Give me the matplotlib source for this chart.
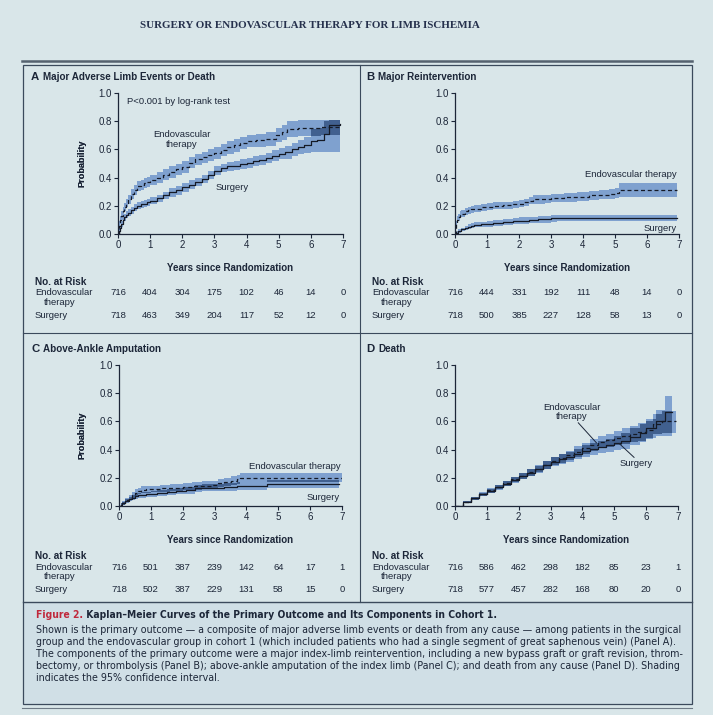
import numpy as np
import matplotlib
matplotlib.use('Agg')
import matplotlib.pyplot as plt
from matplotlib import font_manager
from matplotlib.font_manager import FontProperties
from matplotlib.transforms import blended_transform_factory
from matplotlib.patches import Rectangle
from matplotlib.lines import Line2D
from matplotlib.text import Annotation

# ---------------- data ----------------
years = [0, 1, 2, 3, 4, 5, 6, 7]
year_labels = ['0', '1', '2', '3', '4', '5', '6', '7']
prob_ticks = [0.0, 0.2, 0.4, 0.6, 0.8, 1.0]
prob_labels = ['0.0', '0.2', '0.4', '0.6', '0.8', '1.0']

# Panel A - Major adverse limb events or death
a_endo_t = [0, .03, .06, .1, .15, .2, .25, .3, .4, .5, .6, .7, .8, .9, 1.0, 1.2, 1.4, 1.6, 1.8, 2.0,
            2.2, 2.4, 2.6, 2.8, 3.0, 3.2, 3.4, 3.6, 3.8, 4.0, 4.3, 4.6, 4.9, 5.1, 5.25, 5.6, 6.3, 6.9]
a_endo_v = [0, .06, .10, .13, .16, .19, .22, .245, .285, .315, .34, .35, .36, .37, .38, .40, .42, .44, .46, .475,
            .505, .53, .545, .56, .575, .595, .615, .63, .645, .66, .665, .675, .70, .72, .745, .75, .76, .76]
a_endo_lo = [0, .03, .07, .10, .13, .16, .19, .215, .25, .28, .305, .315, .325, .335, .345, .36, .38, .40, .42, .435,
             .465, .49, .505, .52, .535, .55, .57, .585, .60, .615, .62, .625, .65, .665, .69, .695, .70, .70]
a_endo_hi = [0, .09, .13, .16, .19, .22, .25, .275, .32, .35, .375, .385, .395, .405, .415, .44, .46, .48, .50, .515,
             .545, .57, .585, .60, .615, .64, .66, .675, .69, .705, .71, .72, .75, .775, .80, .805, .81, .81]
a_surg_t = [0, .03, .06, .1, .15, .2, .25, .3, .4, .5, .6, .7, .8, .9, 1.0, 1.2, 1.4, 1.6, 1.8, 2.0,
            2.2, 2.4, 2.6, 2.8, 3.0, 3.2, 3.4, 3.6, 3.8, 4.0, 4.2, 4.4, 4.6, 4.8, 5.0, 5.2, 5.4, 5.6, 5.8, 6.0,
            6.2, 6.4, 6.55, 6.9]
a_surg_v = [0, .02, .04, .07, .10, .12, .135, .15, .17, .185, .20, .21, .215, .225, .235, .255, .275, .295, .31, .33,
            .35, .37, .39, .42, .45, .47, .48, .485, .495, .505, .515, .525, .54, .555, .57, .58, .60, .615, .63, .66,
            .67, .71, .775, .78]
a_surg_lo = [0, .005, .02, .05, .075, .095, .11, .125, .145, .16, .175, .185, .19, .20, .21, .23, .25, .265, .28, .30,
             .32, .34, .36, .39, .42, .44, .45, .455, .46, .47, .48, .49, .505, .515, .53, .535, .555, .565, .575, .58,
             .58, .58, .58, .58]
a_surg_hi = [0, .035, .06, .09, .125, .145, .16, .175, .195, .21, .225, .235, .24, .25, .26, .28, .30, .325, .34, .36,
             .38, .40, .42, .45, .48, .50, .51, .515, .53, .54, .55, .56, .575, .595, .61, .625, .645, .665, .685, .745,
             .75, .80, .81, .81]

# Panel B - Major reintervention
b_endo_t = [0, .03, .06, .1, .15, .2, .3, .4, .5, .6, .8, 1.0, 1.2, 1.5, 1.8, 2.0, 2.15, 2.3, 2.45, 2.8,
            3.0, 3.4, 3.8, 4.2, 4.5, 4.8, 5.0, 5.12, 6.95]
b_endo_v = [0, .07, .10, .12, .135, .145, .16, .17, .175, .18, .19, .195, .20, .205, .21, .215, .225, .235, .245, .25,
            .255, .26, .265, .275, .28, .285, .29, .315, .315]
b_endo_lo = [0, .045, .075, .095, .11, .12, .135, .145, .15, .155, .165, .17, .175, .18, .185, .19, .20, .21, .215, .22,
             .225, .23, .235, .24, .245, .25, .255, .265, .265]
b_endo_hi = [0, .095, .125, .145, .16, .17, .185, .195, .20, .205, .215, .22, .225, .23, .235, .24, .25, .26, .275, .28,
             .285, .29, .295, .305, .315, .32, .325, .365, .365]
b_surg_t = [0, .05, .1, .2, .3, .4, .5, .6, .8, 1.0, 1.2, 1.5, 1.8, 2.0, 2.3, 2.6, 3.0, 3.2, 6.95]
b_surg_v = [0, .01, .02, .033, .045, .053, .06, .065, .068, .072, .078, .085, .09, .095, .10, .105, .11, .115, .115]
b_surg_lo = [0, .0, .008, .02, .03, .037, .043, .047, .05, .053, .058, .064, .068, .072, .076, .08, .085, .092, .092]
b_surg_hi = [0, .02, .032, .046, .06, .069, .077, .083, .086, .091, .098, .106, .112, .118, .124, .13, .135, .138, .138]

# Panel C - Above-ankle amputation
c_endo_t = [0, .05, .1, .2, .3, .4, .5, .6, .7, .85, 1.0, 1.3, 1.6, 2.0, 2.3, 2.6, 2.9, 3.1, 3.3, 3.5, 3.7, 3.8, 7.0]
c_endo_v = [0, .01, .02, .04, .06, .08, .095, .105, .115, .12, .12, .125, .13, .135, .14, .145, .15, .16, .17, .18,
            .19, .20, .20]
c_endo_lo = [0, .0, .01, .025, .04, .058, .072, .082, .09, .095, .097, .10, .105, .11, .114, .118, .123, .132, .14,
             .15, .158, .168, .168]
c_endo_hi = [0, .02, .032, .055, .078, .1, .118, .128, .14, .145, .145, .15, .157, .162, .168, .174, .18, .19, .2,
             .212, .222, .232, .232]
c_surg_t = [0, .05, .1, .2, .3, .4, .5, .6, .7, .85, 1.0, 1.2, 1.5, 1.8, 2.1, 2.4, 2.6, 3.0, 3.3, 3.7, 4.65, 6.9]
c_surg_v = [0, .01, .02, .035, .05, .06, .068, .075, .08, .082, .085, .095, .10, .105, .11, .125, .13, .13, .135, .14,
            .155, .155]
c_surg_lo = [0, .0, .01, .022, .034, .043, .05, .056, .06, .062, .065, .074, .078, .082, .087, .1, .104, .104, .108,
             .112, .125, .125]
c_surg_hi = [0, .02, .03, .048, .066, .077, .086, .094, .1, .102, .105, .116, .122, .128, .133, .15, .156, .156, .162,
             .168, .185, .185]

# Panel D - Death
d_endo_t = [0, .25, .5, .75, 1.0, 1.25, 1.5, 1.75, 2.0, 2.25, 2.5, 2.75, 3.0, 3.25, 3.5, 3.75, 4.0, 4.25, 4.5, 4.75,
            5.0, 5.25, 5.5, 5.75, 6.0, 6.2, 6.5, 6.95]
d_endo_v = [0, .028, .055, .083, .11, .135, .16, .188, .215, .24, .265, .293, .32, .34, .36, .385, .41, .435, .455,
            .465, .48, .495, .51, .525, .54, .58, .605, .605]
d_endo_lo = [0, .02, .045, .07, .095, .118, .142, .168, .193, .216, .24, .265, .29, .308, .327, .348, .37, .392, .41,
             .418, .43, .44, .452, .462, .475, .51, .52, .52]
d_endo_hi = [0, .036, .065, .096, .125, .152, .178, .208, .237, .264, .29, .321, .35, .372, .393, .422, .45, .478, .5,
             .512, .53, .55, .568, .588, .605, .65, .675, .675]
d_surg_t = [0, .25, .5, .75, 1.0, 1.25, 1.5, 1.75, 2.0, 2.25, 2.5, 2.75, 3.0, 3.25, 3.5, 3.75, 4.0, 4.25, 4.5, 4.75,
            5.0, 5.2, 5.5, 5.8, 6.0, 6.3, 6.6, 6.8]
d_surg_v = [0, .027, .054, .082, .108, .133, .158, .185, .212, .237, .262, .29, .315, .333, .35, .37, .39, .405, .42,
            .43, .447, .46, .49, .52, .55, .60, .665, .665]
d_surg_lo = [0, .019, .044, .069, .093, .116, .14, .165, .19, .213, .237, .263, .285, .30, .315, .333, .35, .363,
             .376, .383, .397, .405, .43, .455, .48, .50, .50, .50]
d_surg_hi = [0, .035, .064, .095, .123, .15, .176, .205, .234, .261, .287, .317, .345, .366, .385, .407, .43, .447,
             .464, .477, .497, .515, .55, .585, .62, .68, .78, .78]

# Numbers at risk
risk_a_endo = [716, 404, 304, 175, 102, 46, 14, 0]
risk_a_surg = [718, 463, 349, 204, 117, 52, 12, 0]
risk_b_endo = [716, 444, 331, 192, 111, 48, 14, 0]
risk_b_surg = [718, 500, 385, 227, 128, 58, 13, 0]
risk_c_endo = [716, 501, 387, 239, 142, 64, 17, 1]
risk_c_surg = [718, 502, 387, 229, 131, 58, 15, 0]
risk_d_endo = [716, 586, 462, 298, 182, 85, 23, 1]
risk_d_surg = [718, 577, 457, 282, 168, 80, 20, 0]

panel_letters = ['A', 'B', 'C', 'D']
panel_titles = ['Major Adverse Limb Events or Death', 'Major Reintervention',
                'Above-Ankle Amputation', 'Death']

header = 'SURGERY OR ENDOVASCULAR THERAPY FOR LIMB ISCHEMIA'
caption_label = 'Figure 2.'
caption_title = ' Kaplan\u2013Meier Curves of the Primary Outcome and Its Components in Cohort 1.'
caption_lines = [
    'Shown is the primary outcome \u2014 a composite of major adverse limb events or death from any cause \u2014 among patients in the surgical',
    'group and the endovascular group in cohort 1 (which included patients who had a single segment of great saphenous vein) (Panel A).',
    'The components of the primary outcome were a major index-limb reintervention, including a new bypass graft or graft revision, throm-',
    'bectomy, or thrombolysis (Panel B); above-ankle amputation of the index limb (Panel C); and death from any cause (Panel D). Shading',
    'indicates the 95% confidence interval.',
]

# ---------------- style ----------------
SANS = 'Liberation Sans'
SERIF = 'Liberation Serif'
plt.rcParams['font.family'] = [SANS, 'DejaVu Sans']


def condensed_font(bold):
    for f in font_manager.fontManager.ttflist:
        st = str(f.stretch)
        if st in ('condensed', 'semi-condensed', '75', '87') and f.style == 'normal':
            w = f.weight if isinstance(f.weight, int) else (700 if 'bold' in str(f.weight) else 400)
            if (w >= 600) == bold and ('Sans' in f.name or 'Roboto' in f.name):
                return FontProperties(fname=f.fname)
    return None


CAP_REG = condensed_font(False)
CAP_BOLD = condensed_font(True)

BG = '#d9e6e9'
CAP_BG = '#d0dfe6'
FRAME = '#3b4a5c'
INK = '#1c2638'
LIGHT = '#7fa1cf'
DARK = '#41608f'
LINE = '#151a26'
RED = '#c0283c'

W, H = 713, 715
fig = plt.figure(figsize=(W / 100, H / 100), dpi=100)
fig.patch.set_facecolor(BG)
renderer = fig.canvas.get_renderer()


def fx(x):
    return x / W


def fy(y):
    return 1 - y / H


def fit_width(txt, target_px):
    w = txt.get_window_extent(renderer).width
    txt.set_fontsize(txt.get_fontsize() * target_px / w)
    return txt.get_fontsize()


# frame / decoration layer in pixel coordinates
deco = fig.add_axes([0, 0, 1, 1], zorder=0)
deco.set_xlim(0, W)
deco.set_ylim(H, 0)
deco.axis('off')
deco.add_patch(Rectangle((23, 602), 669, 102, facecolor=CAP_BG, edgecolor='none'))
deco.add_line(Line2D([22, 692], [61, 61], color='#55626f', lw=1.8))
deco.add_patch(Rectangle((23, 65), 669, 639, facecolor='none', edgecolor=FRAME, lw=0.9))
deco.add_line(Line2D([360, 360], [65, 602], color=FRAME, lw=0.8))
deco.add_line(Line2D([23, 692], [333, 333], color=FRAME, lw=0.8))
deco.add_line(Line2D([23, 692], [602, 602], color=FRAME, lw=1.0))
deco.add_line(Line2D([22, 692], [708, 708], color='#6e7a86', lw=0.8))

hdr = fig.text(fx(140), fy(25), header, family=SERIF, fontsize=7.2, color='#26314d',
               ha='left', va='center', fontweight='bold')
fit_width(hdr, 340)


def step_eval(t, arr, grid):
    t = np.asarray(t)
    arr = np.asarray(arr)
    idx = np.clip(np.searchsorted(t, grid, side='right') - 1, 0, len(t) - 1)
    return arr[idx]


def draw_panel(box, endo, surg):
    l, t, r, b = box
    ax = fig.add_axes([fx(l), fy(b), fx(r - l), (b - t) / H], zorder=2)
    ax.set_facecolor('none')
    et, ev, elo, ehi = endo
    st, sv, slo, shi = surg
    ax.fill_between(et, elo, ehi, step='post', color=LIGHT, lw=0, zorder=1)
    ax.fill_between(st, slo, shi, step='post', color=LIGHT, lw=0, zorder=1)
    tmax = min(et[-1], st[-1])
    grid = np.array(sorted(set([x for x in et + st if x <= tmax])))
    lo = np.maximum(step_eval(et, elo, grid), step_eval(st, slo, grid))
    hi = np.minimum(step_eval(et, ehi, grid), step_eval(st, shi, grid))
    hi = np.maximum(hi, lo)
    ax.fill_between(grid, lo, hi, step='post', color=DARK, lw=0, zorder=2)
    ax.plot(st, sv, drawstyle='steps-post', color=LINE, lw=0.9, zorder=3)
    ax.plot(et, ev, drawstyle='steps-post', color=LINE, lw=0.9, dashes=(3.2, 2.2), zorder=3)
    ax.set_xlim(0, 7)
    ax.set_ylim(0, 1)
    for s in ['top', 'right']:
        ax.spines[s].set_visible(False)
    for s in ['left', 'bottom']:
        ax.spines[s].set_color(INK)
        ax.spines[s].set_linewidth(0.9)
    ax.set_xticks(years)
    ax.set_xticklabels(year_labels)
    ax.set_yticks(prob_ticks)
    ax.set_yticklabels(prob_labels)
    ax.tick_params(direction='out', length=3, width=0.8, colors=INK, labelsize=7, pad=1.5)
    ax.set_ylabel('Probability', fontsize=6.6, fontweight='bold', color=INK)
    ax.yaxis.set_label_coords(-(l - 86) / (r - l), 0.5)
    ax.set_xlabel('Years since Randomization', fontsize=7.0, fontweight='bold', color=INK)
    ax.xaxis.set_label_coords(0.5, -(29) / (b - t))
    return ax


def risk_table(ax, x_label, y0, endo_counts, surg_counts):
    tr = blended_transform_factory(ax.transData, fig.transFigure)
    fs = 6.8
    fig.text(fx(x_label), fy(y0), 'No. at Risk', fontsize=7.2, fontweight='bold', color=INK, va='center')
    fig.text(fx(x_label), fy(y0 + 11), 'Endovascular', fontsize=fs, color=INK, va='center')
    fig.text(fx(x_label + 9), fy(y0 + 20.5), 'therapy', fontsize=fs, color=INK, va='center')
    fig.text(fx(x_label), fy(y0 + 33), 'Surgery', fontsize=fs, color=INK, va='center')
    for yr, n in zip(years, endo_counts):
        ax.text(yr, fy(y0 + 11), str(n), transform=tr, fontsize=fs, color=INK, ha='center', va='center')
    for yr, n in zip(years, surg_counts):
        ax.text(yr, fy(y0 + 33), str(n), transform=tr, fontsize=fs, color=INK, ha='center', va='center')


def panel_title(x, y, letter, title):
    fig.text(fx(x), fy(y), letter, fontsize=8.2, fontweight='bold', color=INK, va='center')
    fig.text(fx(x + 12), fy(y), title, fontsize=7.1, fontweight='bold', color=INK, va='center')


# Panel A
axA = draw_panel((118, 93, 343, 234), (a_endo_t, a_endo_v, a_endo_lo, a_endo_hi),
                 (a_surg_t, a_surg_v, a_surg_lo, a_surg_hi))
panel_title(31, 77, panel_letters[0], panel_titles[0])
risk_table(axA, 35, 282, risk_a_endo, risk_a_surg)
axA.text(0.28, 0.94, 'P<0.001 by log-rank test', fontsize=6.8, color=INK, va='center')
axA.text(1.98, 0.67, 'Endovascular\ntherapy', fontsize=6.8, color=INK, ha='center', va='center', linespacing=1.05)
axA.text(3.54, 0.33, 'Surgery', fontsize=6.8, color=INK, ha='center', va='center')

# Panel B
axB = draw_panel((455, 93, 679, 234), (b_endo_t, b_endo_v, b_endo_lo, b_endo_hi),
                 (b_surg_t, b_surg_v, b_surg_lo, b_surg_hi))
panel_title(366, 77, panel_letters[1], panel_titles[1])
risk_table(axB, 372, 282, risk_b_endo, risk_b_surg)
axB.text(6.92, 0.42, 'Endovascular therapy', fontsize=6.8, color=INK, ha='right', va='center')
axB.text(6.92, 0.04, 'Surgery', fontsize=6.8, color=INK, ha='right', va='center')

# Panel C
axC = draw_panel((119, 365, 342, 506), (c_endo_t, c_endo_v, c_endo_lo, c_endo_hi),
                 (c_surg_t, c_surg_v, c_surg_lo, c_surg_hi))
panel_title(31, 349, panel_letters[2], panel_titles[2])
risk_table(axC, 35, 556, risk_c_endo, risk_c_surg)
axC.text(6.95, 0.28, 'Endovascular therapy', fontsize=6.8, color=INK, ha='right', va='center')
axC.text(6.92, 0.06, 'Surgery', fontsize=6.8, color=INK, ha='right', va='center')

# Panel D
axD = draw_panel((455, 365, 678, 506), (d_endo_t, d_endo_v, d_endo_lo, d_endo_hi),
                 (d_surg_t, d_surg_v, d_surg_lo, d_surg_hi))
panel_title(366, 349, panel_letters[3], panel_titles[3])
risk_table(axD, 372, 556, risk_d_endo, risk_d_surg)
axD.text(3.67, 0.665, 'Endovascular\ntherapy', fontsize=6.8, color=INK, ha='center', va='center', linespacing=1.05)
axD.plot([3.87, 4.44], [0.59, 0.448], color=INK, lw=0.7, zorder=4)
axD.text(5.68, 0.30, 'Surgery', fontsize=6.8, color=INK, ha='center', va='center')
axD.plot([5.17, 5.62], [0.44, 0.345], color=INK, lw=0.7, zorder=4)

# Caption
reg_kw = {'fontproperties': CAP_REG} if CAP_REG is not None else {}
bold_kw = {'fontproperties': CAP_BOLD} if CAP_BOLD is not None else {'fontweight': 'bold'}

body = []
for i, line in enumerate(caption_lines):
    body.append(fig.text(fx(36), fy(630 + 12 * i), line, color=INK, va='center', **reg_kw))
body[0].set_fontsize(8.0)
fs_body = fit_width(body[0], 641)
for tx in body[1:]:
    tx.set_fontsize(fs_body)

lab = fig.text(fx(36), fy(615), caption_label, color=RED, va='center', **bold_kw)
lab.set_fontsize(fs_body * 0.97)
ttl = Annotation(caption_title, xy=(1, 0.5), xycoords=lab, va='center', ha='left',
                 color=INK, **bold_kw)
ttl.set_fontsize(fs_body * 0.97)
fig.add_artist(ttl)

fig.savefig('out.png', dpi=100, facecolor=BG)
